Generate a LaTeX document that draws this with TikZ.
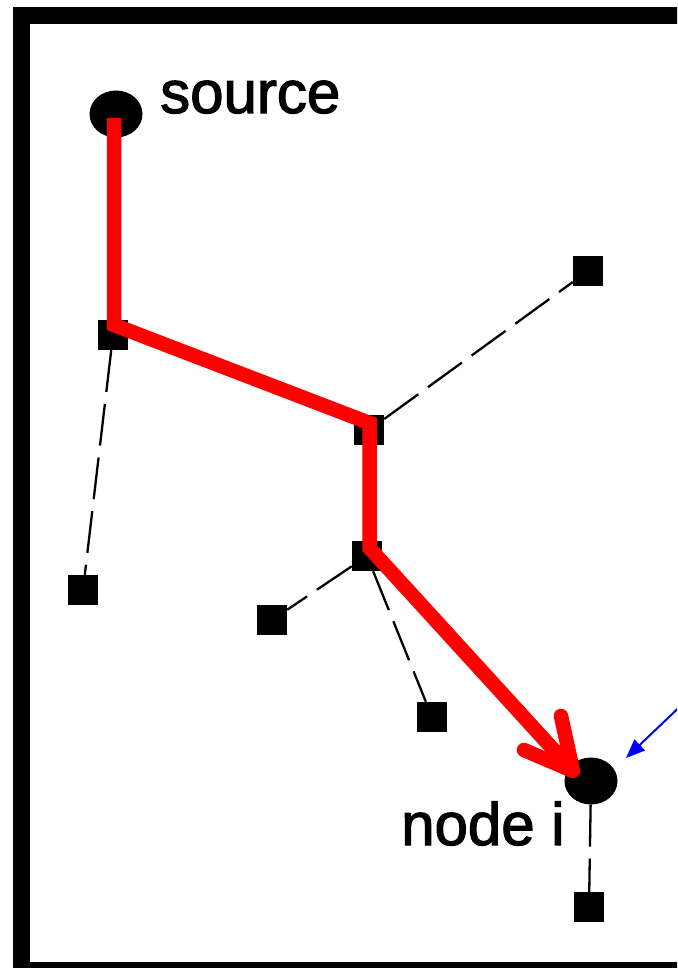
\documentclass[tikz,border=0pt]{standalone}
\usepackage{fontspec}
\setmainfont{Liberation Sans}
\newfontfamily\lblfont[FakeBold=2]{Liberation Sans}
\usetikzlibrary{shapes.geometric,arrows.meta}
\begin{document}
\begin{tikzpicture}[x=1pt,y=-1pt,
  leaf/.style={rectangle,fill=black,minimum width=30pt,minimum height=30pt,inner sep=0pt},
  hub/.style={ellipse,fill=black,minimum width=53pt,minimum height=47pt,inner sep=0pt},
  dashlink/.style={black,line width=2.3pt,dash pattern=on 42pt off 12pt},
  redpath/.style={red,line width=14.5pt},
  redbarb/.style={red,line width=14.5pt,line cap=round,line join=round},
  blueptr/.style={blue,line width=2pt,-{Triangle[length=19pt,width=15pt]}},
  lbl/.style={font=\lblfont\fontsize{60}{72}\selectfont,inner sep=0pt,anchor=base west},
  frameline/.style={line width=17pt}
]
\useasboundingbox (0,0) rectangle (677,968);
\clip (0,0) rectangle (677,968);
\fill[white] (0,0) rectangle (677,968);
\draw[frameline] (21.5,16) rectangle (720,970.5);

\node[hub] (src) at (116,114) {};
\node[hub] (ni) at (591,781) {};
\node[leaf] (A) at (113,335) {};
\node[leaf] (B) at (83,590) {};
\node[leaf] (C) at (369,430) {};
\node[leaf] (D) at (367,556) {};
\node[leaf] (E) at (272,620) {};
\node[leaf] (F) at (432,717) {};
\node[leaf] (G) at (588,271) {};
\node[leaf] (H) at (589,907) {};

\node[lbl] (srclbl) at (160,113) {source};
\node[lbl] (nilbl) at (401,845) {node i};

\draw[dashlink] (A) -- (B);
\draw[dashlink] (C) -- (G);
\draw[dashlink] (D) -- (E);
\draw[dashlink] (D) -- (F);
\draw[dashlink] (ni) -- (H);

\coordinate (r0) at (114,118);
\coordinate (r1) at (114,325);
\coordinate (r2) at (369.5,423);
\coordinate (r3) at (369.5,548);
\coordinate (rtip) at (573,771);
\coordinate (rb1) at (524,750);
\coordinate (rb2) at (561,716);
\draw[redpath] (r0) -- (r1) -- (r2) -- (r3) -- (rtip);
\draw[redbarb] (rb1) -- (rtip) -- (rb2);

\coordinate (bstart) at (690,697);
\coordinate (btip) at (626,758);
\draw[blueptr] (bstart) -- (btip);
\end{tikzpicture}
\end{document}
